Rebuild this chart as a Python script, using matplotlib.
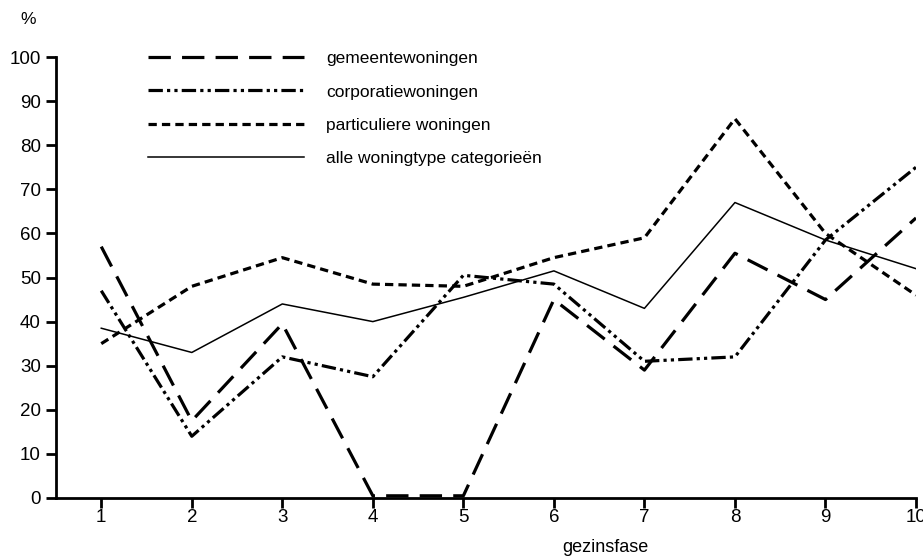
import numpy as np
import matplotlib.pyplot as plt

plt.rcParams['font.family'] = ['Liberation Sans', 'DejaVu Sans']

fase = np.arange(1, 11)
gemeente = [57, 17.5, 39.5, 0.5, 0.5, 45, 29, 55.5, 45, 63.5]
corporatie = [47, 14, 32, 27.5, 50.5, 48.5, 31, 32, 58.5, 75]
particulier = [35, 48, 54.5, 48.5, 48, 54.5, 59, 86, 60, 46]
alle = [38.5, 33, 44, 40, 45.5, 51.5, 43, 67, 58.5, 52]

labels = ['gemeentewoningen', 'corporatiewoningen',
          'particuliere woningen', 'alle woningtype categorieën']

fig = plt.figure(figsize=(9.23, 5.56), dpi=100)
ax = fig.add_axes([56/923, 1 - 498/556, 860/923, 441/556])

ax.plot(fase, gemeente, color='black', lw=2.3, dashes=(7, 3.5), label=labels[0])
ax.plot(fase, corporatie, color='black', lw=2.3,
        dashes=(4.5, 1.3, 1, 1.3, 1, 1.3), label=labels[1])
ax.plot(fase, particulier, color='black', lw=2.3, dashes=(2.6, 1.6), label=labels[2])
ax.plot(fase, alle, color='black', lw=1.1, label=labels[3])

ax.set_xlim(0.5, 10)
ax.set_ylim(0, 100)
ax.set_xticks(fase)
ax.set_yticks(np.arange(0, 101, 10))
for s in ['top', 'right']:
    ax.spines[s].set_visible(False)
for s in ['left', 'bottom']:
    ax.spines[s].set_linewidth(2)
ax.tick_params(direction='out', length=7, width=2, labelsize=13.5)
ax.tick_params(axis='x', pad=1)
ax.tick_params(axis='y', pad=4)

fig.text(28/923, 1 - 19/556, '%', fontsize=12.5, ha='center', va='center')
fig.text(605/923, 1 - 548/556, 'gezinsfase', fontsize=13, ha='center', va='center')

ax.legend(loc='upper left', bbox_to_anchor=(148/923, 1 - 51/556),
          bbox_transform=fig.transFigure, frameon=False, fontsize=12.5,
          handlelength=9.0, handletextpad=1.25, labelspacing=1.05,
          borderpad=0, borderaxespad=0)

fig.savefig('out.png', dpi=100)
